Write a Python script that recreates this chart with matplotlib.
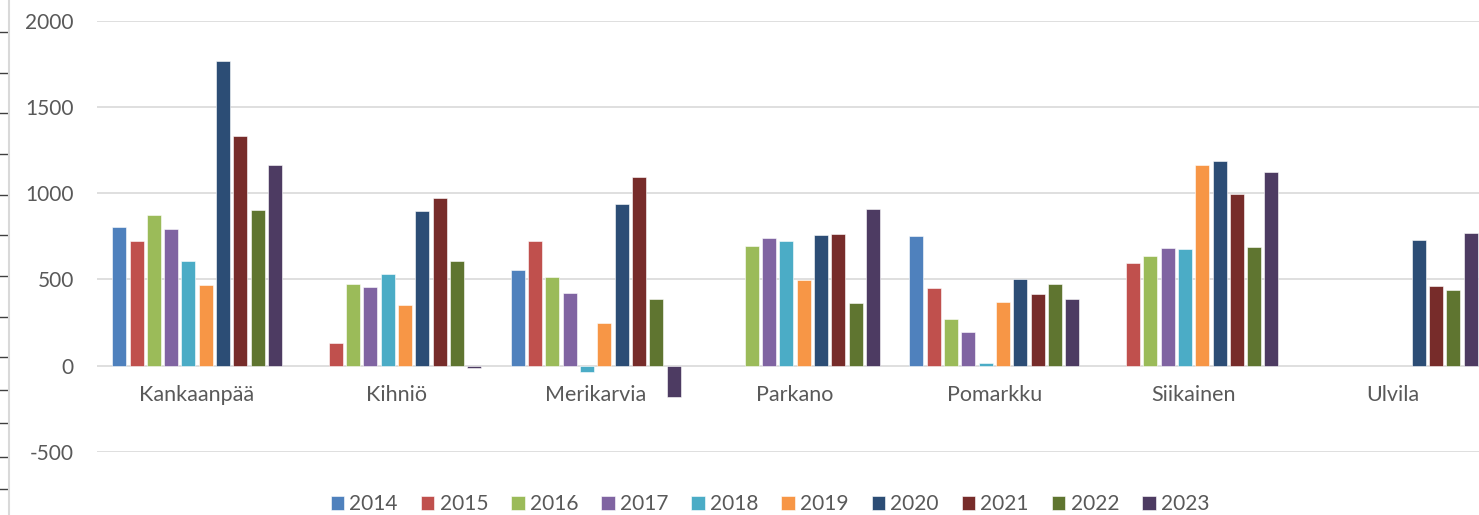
import matplotlib.pyplot as plt
import numpy as np

# kunnat ja vuodet
kunnat = ["Kankaanpää", "Kihniö", "Merikarvia", "Parkano", "Pomarkku", "Siikainen", "Ulvila"]
vuodet = ["2014", "2015", "2016", "2017", "2018", "2019", "2020", "2021", "2022", "2023"]

nan = np.nan
# arvot kunnittain, vuodet 2014-2023
kankaanpaa = [804, 721, 872, 795, 609, 469, 1767, 1331, 901, 1165]
kihnio = [nan, 132, 475, 457, 529, 351, 899, 971, 609, -15]
merikarvia = [554, 721, 512, 423, -35, 248, 940, 1097, 384, -180]
parkano = [nan, nan, 692, 742, 725, 494, 758, 766, 364, 911]
pomarkku = [754, 452, 269, 192, 17, 370, 500, 413, 471, 384]
siikainen = [nan, 595, 634, 680, 674, 1165, 1186, 994, 688, 1126]
ulvila = [nan, nan, nan, nan, nan, nan, 731, 463, 436, 771]

varit = ["#4F81BD", "#C0504D", "#9BBB59", "#8064A2", "#4BACC6",
         "#F79646", "#2C4D75", "#772C2A", "#5F7530", "#4D3B62"]

data = np.array([kankaanpaa, kihnio, merikarvia, parkano, pomarkku, siikainen, ulvila])

plt.rcParams['font.family'] = ['Lato', 'DejaVu Sans']
plt.rcParams['axes.unicode_minus'] = False
harmaa = "#595959"

W, H = 1479, 515
fig = plt.figure(figsize=(W / 100, H / 100), dpi=100)

# pääkaavio
left = 97.4 / W
bottom = 1 - 451.7 / H
top = 1 - 21 / H
ax = fig.add_axes([left, bottom, 1 - left, top - bottom])

x = np.arange(len(kunnat))
askel = 17.3 / 199.3
leveys = 14 / 199.3
for j, v in enumerate(vuodet):
    ax.bar(x + (j - 4.5) * askel, data[:, j], width=leveys, color=varit[j],
           label=v, edgecolor="white", linewidth=0.4, zorder=3)

ax.set_ylim(-500, 2000)
ax.set_xlim(-0.5, (W - 97.4) / 199.3 - 0.5)
ax.set_yticks(np.arange(-500, 2001, 500))
ax.yaxis.grid(True, color="#d9d9d9", linewidth=1.2, zorder=0)
for s in ax.spines.values():
    s.set_visible(False)
ax.spines['bottom'].set_position(('data', 0))
ax.set_xticks(x)
ax.set_xticklabels(kunnat)
ax.tick_params(axis='x', length=0, pad=14, labelsize=15.5, labelcolor=harmaa)
ax.tick_params(axis='y', length=0, pad=17, labelsize=15, labelcolor=harmaa)

# vasemman reunan jäänne toisesta kaaviosta
axl = fig.add_axes([0, 0, 9 / W, 1])
axl.set_xlim(0, 1)
axl.set_ylim(H, 0)
for k, s in axl.spines.items():
    s.set_visible(k == 'right')
axl.spines['right'].set_color("#d9d9d9")
axl.spines['right'].set_linewidth(1.5)
axl.yaxis.tick_right()
axl.set_yticks([32, 73, 113, 154, 195, 235, 276, 317, 357, 390, 423, 457, 489])
axl.tick_params(axis='y', direction='in', length=8, width=1, color="#404040",
                labelright=False)
axl.set_xticks([])

fig.legend(loc='center', bbox_to_anchor=(770 / W, 1 - 504 / H), ncol=10,
           frameon=False, fontsize=15, labelcolor=harmaa,
           handlelength=0.65, handleheight=0.65, handletextpad=0.25,
           columnspacing=1.1)

fig.savefig("out.png", dpi=100)
